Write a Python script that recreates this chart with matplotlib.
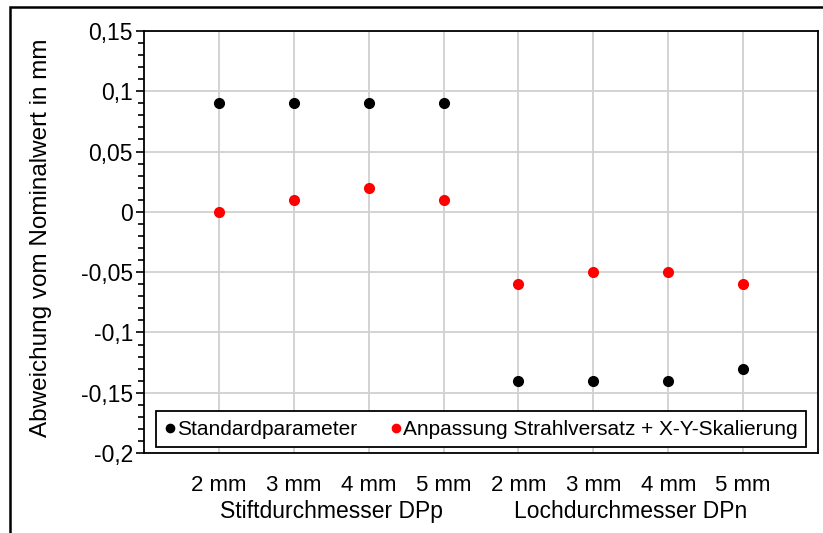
import matplotlib
matplotlib.use('Agg')

import numpy as np
import matplotlib.pyplot as plt
from matplotlib.patches import Rectangle
from matplotlib.ticker import MultipleLocator, FuncFormatter
import matplotlib.transforms as mtrans

plt.rcParams['font.family'] = ['Liberation Sans', 'DejaVu Sans']

# data
sizes = ['2 mm', '3 mm', '4 mm', '5 mm', '2 mm', '3 mm', '4 mm', '5 mm']
groups = ['Stiftdurchmesser DPp', 'Lochdurchmesser DPn']
standard = [0.09, 0.09, 0.09, 0.09, -0.14, -0.14, -0.14, -0.13]
angepasst = [0.0, 0.01, 0.02, 0.01, -0.06, -0.05, -0.05, -0.06]

fig = plt.figure(figsize=(8.23, 5.33), dpi=100)
ax = fig.add_axes([0.175, 0.150, 0.819, 0.792])

# outer frame of the chart area
fig.patches.append(Rectangle((10 / 823, -0.1), 1.2, 1 - 7 / 533 + 0.1,
                             transform=fig.transFigure, fill=False,
                             edgecolor='black', linewidth=1.8))

x = np.arange(1, len(sizes) + 1)
ax.plot(x, standard, 'o', color='black', ms=7, label='Standardparameter', zorder=3)
ax.plot(x, angepasst, 'o', color='#ff0000', ms=7,
        label='Anpassung Strahlversatz + X-Y-Skalierung', zorder=3)

ax.set_xlim(0, 9)
ax.set_ylim(-0.2, 0.15)
ax.set_xticks(x)
ax.set_xticklabels(sizes, fontsize=16)
ax.yaxis.set_major_locator(MultipleLocator(0.05))
ax.yaxis.set_minor_locator(MultipleLocator(0.01))
ax.yaxis.set_major_formatter(FuncFormatter(lambda v, p: ('%g' % round(v, 2)).replace('.', ',')))
ax.tick_params(axis='y', which='major', length=6, width=1.2, labelsize=16.5, pad=2)
ax.tick_params(axis='y', which='minor', length=4, width=1.2)
ax.tick_params(axis='x', which='both', length=0, pad=16)

ax.grid(True, color='#d0d0d0', linewidth=1.3)
ax.set_axisbelow(True)
for s in ax.spines.values():
    s.set_linewidth(1.3)
    s.set_color('black')

ax.set_ylabel('Abweichung vom Nominalwert in mm', fontsize=17.5)
ax.yaxis.set_label_coords(-0.137, 0.51)

# group labels under the size labels
trans = mtrans.blended_transform_factory(ax.transData, ax.transAxes)
ax.text(2.5, -0.138, groups[0], transform=trans, ha='center', va='center', fontsize=16.5)
ax.text(6.5, -0.138, groups[1], transform=trans, ha='center', va='center', fontsize=16.5)

leg = ax.legend(loc='lower center', bbox_to_anchor=(0.5, 0.014), ncol=2,
                fontsize=15, frameon=True, fancybox=False, handlelength=0.5,
                handletextpad=0.1, columnspacing=1.6, borderpad=0.4,
                markerscale=0.85, borderaxespad=0)
leg.get_frame().set_edgecolor('black')
leg.get_frame().set_linewidth(1.3)
leg.get_frame().set_alpha(1)

plt.savefig('out.png', dpi=100)
